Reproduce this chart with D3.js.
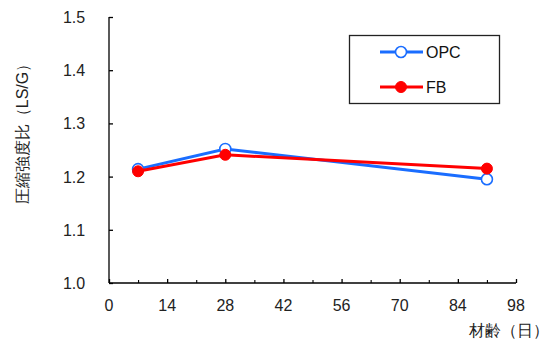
<!DOCTYPE html>
<html>
<head>
<meta charset="utf-8">
<script src="https://cdn.jsdelivr.net/npm/d3@7"></script>
<style>
  body { margin: 0; background: #fff; }
  text { font-family: "Liberation Sans", Arial, sans-serif; }
</style>
</head>
<body>
<div id="chart"></div>
<script>
var width = 554;
var height = 340;

var ages = [7, 28, 91];
var opc = [1.214, 1.252, 1.195];
var fb = [1.210, 1.241, 1.215];
var xTicks = [0, 14, 28, 42, 56, 70, 84, 98];
var xMinor = [7, 21, 35, 49, 63, 77, 91];
var yTicks = [1.0, 1.1, 1.2, 1.3, 1.4, 1.5];
var seriesNames = ["OPC", "FB"];

var blue = "#1a6dff";
var red = "#ff0000";

var svg = d3.select("#chart").append("svg")
  .attr("width", width)
  .attr("height", height);

var x = d3.scaleLinear().domain([0, 98]).range([109, 516]);
var y = d3.scaleLinear().domain([1.0, 1.5]).range([283, 17]);

// y axis, ticks inside
var yAxis = svg.append("g")
  .attr("transform", "translate(109,0)")
  .call(d3.axisRight(y).tickValues(yTicks).tickSize(4).tickFormat(""));
yAxis.select(".domain").attr("d", "M0," + y(1.5) + "V" + y(1.0)).attr("stroke-width", 1.3);
yAxis.selectAll("line").attr("stroke-width", 1.3);

svg.selectAll(".ylab").data(yTicks).enter().append("text")
  .attr("x", 74)
  .attr("y", function(d) { return y(d) + 6; })
  .attr("text-anchor", "middle")
  .attr("font-size", 16)
  .attr("fill", "#222")
  .text(function(d) { return d.toFixed(1); });

// x axis, ticks inside
var xAxis = svg.append("g")
  .attr("transform", "translate(0,283)")
  .call(d3.axisTop(x).tickValues(xTicks).tickSize(4).tickFormat(""));
xAxis.select(".domain").attr("d", "M" + x(0) + ",0H" + x(98)).attr("stroke-width", 1.3);
xAxis.selectAll("line").attr("stroke-width", 1.3);

svg.append("g")
  .attr("transform", "translate(0,283)")
  .call(d3.axisTop(x).tickValues(xMinor).tickSize(3).tickFormat(""))
  .call(function(g) { g.select(".domain").remove(); })
  .selectAll("line").attr("stroke-width", 1.1);

svg.selectAll(".xlab").data(xTicks).enter().append("text")
  .attr("x", function(d) { return x(d); })
  .attr("y", 311)
  .attr("text-anchor", "middle")
  .attr("font-size", 16)
  .attr("fill", "#222")
  .text(function(d) { return d; });

// titles
svg.append("text")
  .attr("transform", "translate(28,130) rotate(-90)")
  .attr("text-anchor", "middle")
  .attr("font-size", 16)
  .attr("font-family", "'Noto Sans CJK JP', sans-serif")
  .attr("fill", "#222")
  .text("圧縮強度比（LS/G）");

svg.append("text")
  .attr("x", 549)
  .attr("y", 336)
  .attr("text-anchor", "end")
  .attr("font-size", 16)
  .attr("font-family", "'Noto Sans CJK JP', sans-serif")
  .attr("fill", "#222")
  .text("材齢（日）");

// series
var line = d3.line()
  .x(function(d, i) { return x(ages[i]); })
  .y(function(d) { return y(d); });

function drawSeries(vals, color, filled) {
  svg.append("path")
    .datum(vals)
    .attr("d", line)
    .attr("fill", "none")
    .attr("stroke", color)
    .attr("stroke-width", 3);
  svg.selectAll(null).data(vals).enter().append("circle")
    .attr("cx", function(d, i) { return x(ages[i]); })
    .attr("cy", function(d) { return y(d); })
    .attr("r", 5.5)
    .attr("fill", filled ? color : "#fff")
    .attr("stroke", color)
    .attr("stroke-width", filled ? 1 : 1.6);
}
drawSeries(opc, blue, false);
drawSeries(fb, red, true);

// legend
var legend = svg.append("g");
legend.append("rect")
  .attr("x", 349.5).attr("y", 35.5)
  .attr("width", 150).attr("height", 68)
  .attr("fill", "#fff")
  .attr("stroke", "#222")
  .attr("stroke-width", 1.3);

var legendRows = [
  { name: seriesNames[0], color: blue, filled: false, y: 52 },
  { name: seriesNames[1], color: red, filled: true, y: 87 }
];
legendRows.forEach(function(r) {
  legend.append("line")
    .attr("x1", 380).attr("x2", 423)
    .attr("y1", r.y).attr("y2", r.y)
    .attr("stroke", r.color).attr("stroke-width", 3);
  legend.append("circle")
    .attr("cx", 401).attr("cy", r.y).attr("r", 5.5)
    .attr("fill", r.filled ? r.color : "#fff")
    .attr("stroke", r.color)
    .attr("stroke-width", r.filled ? 1 : 1.6);
  legend.append("text")
    .attr("x", 426).attr("y", r.y + 6)
    .attr("font-size", 16)
    .attr("fill", "#111")
    .text(r.name);
});
</script>
</body>
</html>
